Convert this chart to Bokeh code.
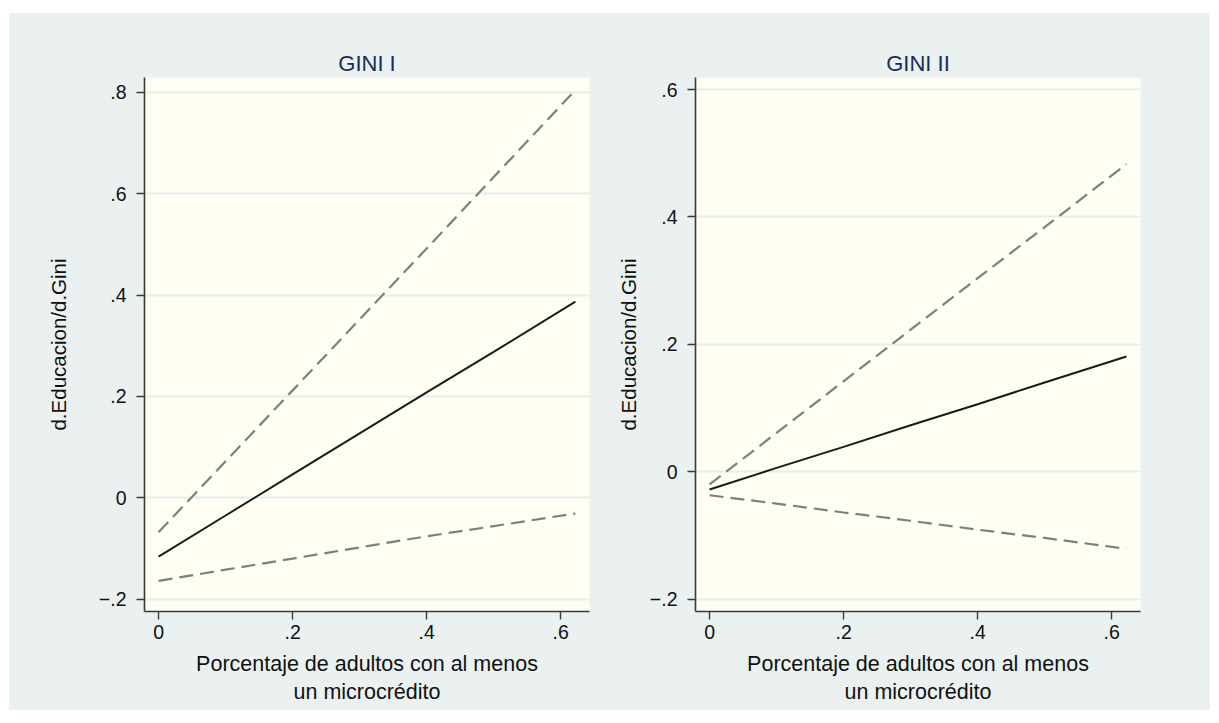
from bokeh.plotting import figure
from bokeh.layouts import row
from bokeh.models import FixedTicker, Range1d
from bokeh.embed import file_html
from bokeh.resources import INLINE

# ---- data ----
x_vals = [0.0, 0.1, 0.2, 0.3, 0.4, 0.5, 0.622]

gini1_effect = [-0.116, -0.035, 0.046, 0.127, 0.208, 0.288, 0.387]
gini1_upper = [-0.068, 0.072, 0.212, 0.352, 0.492, 0.633, 0.805]
gini1_lower = [-0.164, -0.142, -0.120, -0.098, -0.076, -0.056, -0.031]

gini2_effect = [-0.028, 0.006, 0.039, 0.073, 0.106, 0.140, 0.181]
gini2_upper = [-0.020, 0.061, 0.142, 0.223, 0.304, 0.384, 0.483]
gini2_lower = [-0.037, -0.050, -0.064, -0.077, -0.091, -0.104, -0.121]

x_ticks = [0, 0.2, 0.4, 0.6]
x_tick_labels = ["0", ".2", ".4", ".6"]
y1_ticks = [-0.2, 0, 0.2, 0.4, 0.6, 0.8]
y1_tick_labels = ["\u2212.2", "0", ".2", ".4", ".6", ".8"]
y2_ticks = [-0.2, 0, 0.2, 0.4, 0.6]
y2_tick_labels = ["\u2212.2", "0", ".2", ".4", ".6"]

titles = ["GINI I", "GINI II"]
x_title = "Porcentaje de adultos con al menos\nun microcr\u00e9dito"
y_title = "d.Educacion/d.Gini"

FONT = "Liberation Sans"
OUTER = "#eaf1f0"
INNER = "#fefef2"
GRID = "#e6eded"
AXIS = "#3a3a3a"


def make_panel(title, eff, up, lo, yticks, ylabels, yrange, width, left, right, ystand):
    p = figure(width=width, height=697, output_backend="svg", toolbar_location=None,
               x_range=Range1d(-0.021, 0.643), y_range=Range1d(*yrange),
               min_border_left=left, min_border_right=right,
               min_border_top=64, min_border_bottom=99)
    p.background_fill_color = INNER
    p.border_fill_color = OUTER
    p.outline_line_color = None

    p.title.text = title
    p.title.align = "center"
    p.title.text_font = FONT
    p.title.text_font_size = "22px"
    p.title.text_font_style = "normal"
    p.title.text_color = "#1c2c5c"
    p.title.standoff = 4

    for ax in (p.xaxis[0], p.yaxis[0]):
        ax.axis_line_color = AXIS
        ax.axis_line_width = 1.6
        ax.major_tick_line_color = AXIS
        ax.major_tick_line_width = 1.4
        ax.major_tick_out = 8
        ax.major_tick_in = 0
        ax.minor_tick_line_color = None
        ax.major_label_text_font = FONT
        ax.major_label_text_font_size = "19.5px"
        ax.major_label_text_color = "#111111"
        ax.axis_label_text_font = FONT
        ax.axis_label_text_font_style = "normal"
        ax.axis_label_text_color = "#111111"

    p.xaxis.ticker = FixedTicker(ticks=x_ticks)
    p.xaxis.major_label_overrides = dict(zip(x_ticks, x_tick_labels))
    p.xaxis.axis_label = x_title
    p.xaxis.axis_label_text_font_size = "21.5px"
    p.xaxis.axis_label_standoff = 10
    p.xaxis.major_label_standoff = 5

    p.yaxis.ticker = FixedTicker(ticks=yticks)
    p.yaxis.major_label_overrides = dict(zip(yticks, ylabels))
    p.yaxis.axis_label = y_title
    p.yaxis.axis_label_text_font_size = "20.5px"
    p.yaxis.axis_label_standoff = ystand
    p.yaxis.major_label_standoff = 10

    p.xgrid.grid_line_color = None
    p.ygrid.ticker = FixedTicker(ticks=yticks)
    p.ygrid.grid_line_color = GRID
    p.ygrid.grid_line_width = 2

    p.line(x_vals, up, line_color="#7f7f7f", line_width=2.2, line_dash="14 7")
    p.line(x_vals, lo, line_color="#7f7f7f", line_width=2.2, line_dash="14 7")
    p.line(x_vals, eff, line_color="#1a1a1a", line_width=2)
    return p


p1 = make_panel(titles[0], gini1_effect, gini1_upper, gini1_lower,
                y1_ticks, y1_tick_labels, (-0.2245, 0.8296), 600, 135, 20, 26)
p2 = make_panel(titles[1], gini2_effect, gini2_upper, gini2_lower,
                y2_ticks, y2_tick_labels, (-0.2195, 0.619), 601, 86, 70, 7)

layout = row(p1, p2, margin=(13, 0, 0, 9), spacing=0,
             styles={"background-color": OUTER})
open("out.html", "w").write(file_html(layout, INLINE))
